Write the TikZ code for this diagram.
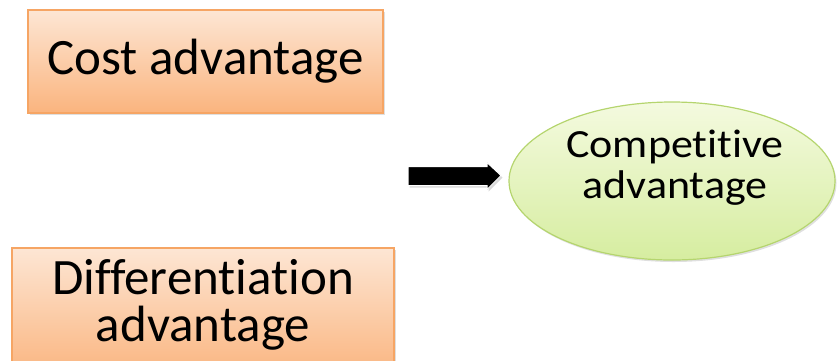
\documentclass[tikz,border=0pt]{standalone}
\usepackage{fontspec}
\setmainfont{Carlito}[RawFeature={-liga;-clig;-dlig}]
\usetikzlibrary{shapes.geometric,shadows}
\definecolor{boxtop}{HTML}{FDE6D4}
\definecolor{boxbot}{HTML}{FAB47E}
\definecolor{boxline}{HTML}{F6A564}
\definecolor{elltop}{HTML}{F4FADF}
\definecolor{ellbot}{HTML}{D6EDA0}
\definecolor{ellline}{HTML}{B5D56E}
\tikzset{
  orangebox/.style={rectangle, draw=boxline, line width=1.2pt, top color=boxtop, bottom color=boxbot,
    inner sep=0pt, drop shadow={opacity=0.25, shadow xshift=1.5pt, shadow yshift=-2pt}},
  greenell/.style={ellipse, draw=ellline, line width=1.2pt, top color=elltop, bottom color=ellbot,
    inner sep=0pt, drop shadow={opacity=0.25, shadow xshift=1.5pt, shadow yshift=-2pt}},
  bigtext/.style={font=\fontsize{51}{47}\selectfont, align=center, inner sep=0pt},
  midtext/.style={font=\fontsize{40}{41}\selectfont, align=center, inner sep=0pt, xscale=1.1},
  blockarrow/.style={fill=black, draw=white, line width=1pt, line join=miter,
    drop shadow={opacity=0.3, shadow xshift=1.5pt, shadow yshift=-2pt}}
}
\begin{document}
\begin{tikzpicture}[x=1pt,y=-1pt]
\useasboundingbox (0,0) rectangle (837,360);
\clip (0,0) rectangle (837,360);
\node[orangebox, minimum width=355pt, minimum height=103pt] (cost) at (205.5,61.5) {};
\node[bigtext] (costt) at (cost.center) {Cost advantage};
\node[orangebox, minimum width=382pt, minimum height=130pt] (diff) at (203,313) {};
\node[bigtext, anchor=north] (difft) at (203,259) {Differentiation\\advantage};
\node[greenell, minimum width=326pt, minimum height=158pt] (comp) at (672,181) {};
\node[midtext, anchor=base] (compt) at (675,198) {Competitive\\advantage};
\coordinate (atail) at (408,175.5);
\coordinate (atip) at (501,175.5);
\path[blockarrow] (atail) ++(0,-9) -- ++(79,0) -- ++(0,-4) -- (atip) -- ++(-14,14) -- ++(0,-4) -- ++(-79,0) -- cycle;
\end{tikzpicture}
\end{document}
